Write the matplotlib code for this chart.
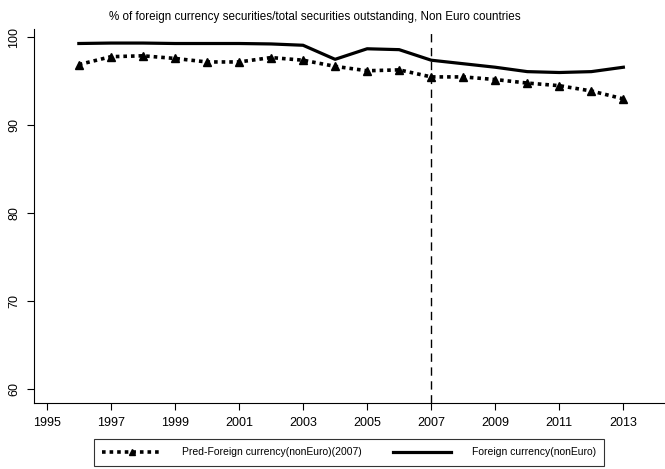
import matplotlib
matplotlib.use("Agg")
import matplotlib.pyplot as plt

plt.rcParams['font.family'] = ['Liberation Sans', 'DejaVu Sans']

years = [1996, 1997, 1998, 1999, 2000, 2001, 2002, 2003, 2004, 2005,
         2006, 2007, 2008, 2009, 2010, 2011, 2012, 2013]
foreign = [99.3, 99.35, 99.35, 99.3, 99.3, 99.3, 99.25, 99.1, 97.5, 98.7,
           98.6, 97.4, 97.0, 96.6, 96.1, 96.0, 96.1, 96.6]
pred = [96.9, 97.8, 97.9, 97.6, 97.2, 97.2, 97.7, 97.4, 96.7, 96.2,
        96.3, 95.5, 95.5, 95.2, 94.8, 94.5, 93.9, 93.0]
xticks = [1995, 1997, 1999, 2001, 2003, 2005, 2007, 2009, 2011, 2013]
yticks = [60, 70, 80, 90, 100]
title = "% of foreign currency securities/total securities outstanding, Non Euro countries"
label_pred = "Pred-Foreign currency(nonEuro)(2007)"
label_foreign = "Foreign currency(nonEuro)"
vline_year = 2007

fig = plt.figure(figsize=(6.65, 4.69), dpi=100)
ax = fig.add_axes([34/665, 1-403/469, 1-34/665, (403-29)/469])

ln_pred, = ax.plot(years, pred, color='black', linestyle=(0, (1, 1.1)), linewidth=2.6,
                   marker='^', markersize=6, markeredgecolor='black',
                   markerfacecolor='black', label=label_pred)
ln_for, = ax.plot(years, foreign, color='black', linestyle='-', linewidth=2.3,
                  label=label_foreign)
ax.axvline(vline_year, color='black', linewidth=1.0, linestyle=(0, (6, 4)))

ax.set_xlim(1994.6, 2014.3)
ax.set_ylim(58.4, 100.95)
ax.set_xticks(xticks)
ax.set_yticks(yticks)
ax.tick_params(axis='both', direction='out', length=5, width=0.8, labelsize=9,
               colors='black', pad=5)
for lab in ax.get_yticklabels():
    lab.set_rotation(90)
    lab.set_va('center')
ax.spines['top'].set_visible(False)
ax.spines['right'].set_visible(False)

fig.text(315/665, 1-17/469, title, ha='center', va='center', fontsize=8.4)

leg = fig.legend([ln_pred, ln_for], [label_pred, label_foreign],
                 loc='upper left', bbox_to_anchor=(94/665, 1-439/469),
                 ncol=2, fontsize=7.5, frameon=True, fancybox=False,
                 edgecolor='black', handlelength=5.6, handletextpad=2.0,
                 borderpad=0.8, columnspacing=3.0, markerscale=0.8,
                 borderaxespad=0)
leg.get_frame().set_linewidth(0.8)

fig.savefig("out.png", dpi=100, facecolor='white')
